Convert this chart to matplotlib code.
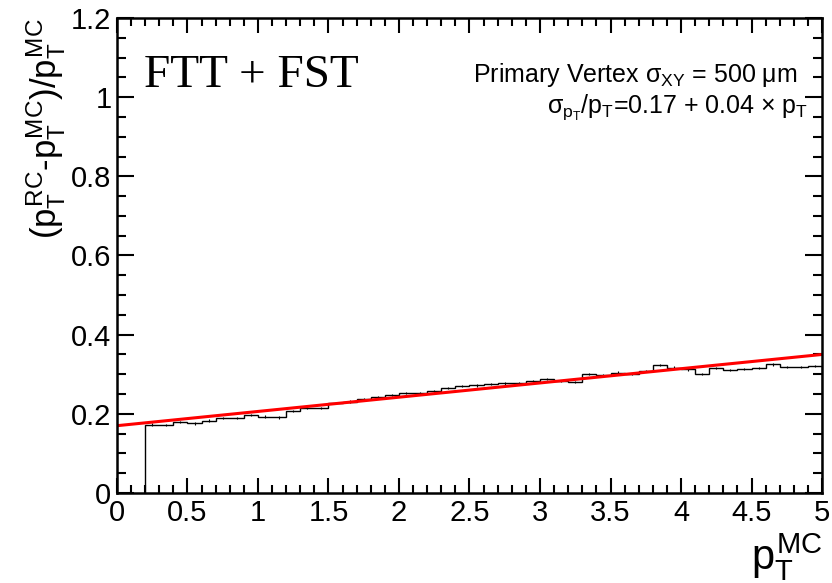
import matplotlib
matplotlib.use("Agg")
import matplotlib.pyplot as plt
import numpy as np
from matplotlib.ticker import MultipleLocator

plt.rcParams["font.family"] = ["Liberation Sans", "DejaVu Sans"]
plt.rcParams["mathtext.fontset"] = "custom"
plt.rcParams["mathtext.rm"] = "Liberation Sans"
plt.rcParams["mathtext.it"] = "Liberation Sans"
plt.rcParams["mathtext.bf"] = "Liberation Sans:bold"

# histogram: bin edges 0.2 ... 5.0 (width 0.1), relative resolution per bin
bin_edges = np.round(np.arange(0.2, 5.0001, 0.1), 2)
resolution = [
    0.173, 0.172, 0.179, 0.176, 0.183, 0.190, 0.190, 0.197,
    0.193, 0.191, 0.207, 0.214, 0.214, 0.227, 0.231, 0.237,
    0.242, 0.247, 0.253, 0.253, 0.257, 0.266, 0.270, 0.272,
    0.275, 0.277, 0.277, 0.283, 0.288, 0.283, 0.281, 0.301,
    0.298, 0.304, 0.301, 0.308, 0.323, 0.317, 0.312, 0.301,
    0.315, 0.311, 0.313, 0.315, 0.325, 0.318, 0.319, 0.321,
]
resolution_err = [0.003] * len(resolution)

# linear fit drawn in red
fit_x = [0.0, 5.0]
fit_y = [0.170, 0.350]

fig = plt.figure(figsize=(8.32, 5.83), dpi=100)
ax = fig.add_axes([0.1406, 0.1544, 0.8474, 0.8147])

ax.stairs(resolution, bin_edges, baseline=0, fill=False, color="black", lw=1.0)
centers = 0.5 * (bin_edges[:-1] + bin_edges[1:])
ax.errorbar(centers, resolution, yerr=resolution_err, fmt="none",
            ecolor="black", elinewidth=0.8, capsize=0)
ax.plot(fit_x, fit_y, color="#ff0000", lw=2.2)

ax.set_xlim(0, 5)
ax.set_ylim(0, 1.2)
ax.xaxis.set_minor_locator(MultipleLocator(0.1))
ax.yaxis.set_minor_locator(MultipleLocator(0.05))
ax.set_xticks(np.arange(0, 5.01, 0.5))
ax.set_xticklabels(["0", "0.5", "1", "1.5", "2", "2.5", "3", "3.5", "4", "4.5", "5"])
ax.set_yticks(np.arange(0, 1.21, 0.2))
ax.set_yticklabels(["0", "0.2", "0.4", "0.6", "0.8", "1", "1.2"])

ax.tick_params(which="both", direction="in", top=True, right=True, width=1.5)
ax.tick_params(axis="x", which="major", length=11, labelsize=21, pad=4)
ax.tick_params(axis="x", which="minor", length=5.5)
ax.tick_params(axis="y", which="major", length=12, labelsize=21, pad=4)
ax.tick_params(axis="y", which="minor", length=6.5)
for s in ax.spines.values():
    s.set_linewidth(1.8)

ax.set_ylabel(r"$(p_T^{RC}$-$p_T^{MC})/p_T^{MC}$", fontsize=25, loc="top", labelpad=2)
ax.set_xlabel(r"$p_T^{MC}$", fontsize=30, loc="right", labelpad=3)

ax.text(0.038, 0.855, "FTT + FST", transform=ax.transAxes,
        family="Liberation Serif", fontsize=34, ha="left", va="baseline")
ax.text(0.965, 0.865, r"Primary Vertex $\sigma_{XY}$ = 500 $\mu$m",
        transform=ax.transAxes, fontsize=18, ha="right", va="baseline")
ax.text(0.98, 0.8, r"$\sigma_{p_T}/p_T$=0.17 + 0.04 $\times$ $p_T$",
        transform=ax.transAxes, fontsize=18, ha="right", va="baseline")

fig.savefig("out.png", dpi=100)
